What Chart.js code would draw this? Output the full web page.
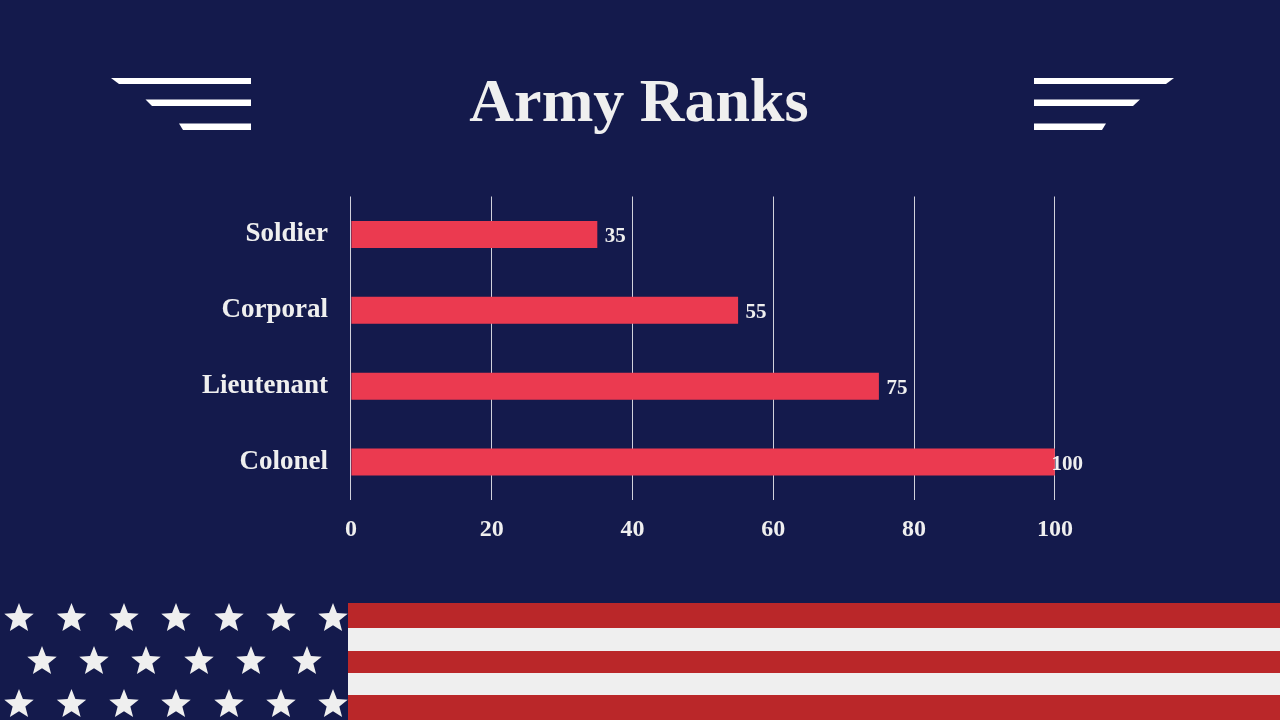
<!DOCTYPE html>
<html>
<head>
<meta charset="utf-8">
<style>
html,body{margin:0;padding:0;width:1280px;height:720px;overflow:hidden;background:#141a4c}
#deco,#c{position:absolute;left:0;top:0}
#title{position:absolute;left:0;top:62px;width:1278px;text-align:center;margin:0;color:#efefef;font:bold 62px "Liberation Serif",serif;line-height:76px}
</style>
<script src="https://cdn.jsdelivr.net/npm/chart.js@4"></script>
</head>
<body>
<svg id="deco" width="1280" height="720" xmlns="http://www.w3.org/2000/svg"></svg>
<h1 id="title">Army Ranks</h1>
<canvas id="c" width="1280" height="720"></canvas>
<script>
const categories = ["Soldier", "Corporal", "Lieutenant", "Colonel"];
const rankValues = [35, 55, 75, 100];
const tickValues = [0, 20, 40, 60, 80, 100];

const NAVY = "#141a4c", WHITE = "#efefef", RED = "#ba2729", BAR = "#eb3a50";
const FONT = '"Liberation Serif", serif';

// decoration
const deco = document.getElementById("deco");
function el(name, attrs){
  const e = document.createElementNS("http://www.w3.org/2000/svg", name);
  for (const k in attrs) e.setAttribute(k, attrs[k]);
  deco.appendChild(e);
}
const stripes = [[603,628,RED],[628,651,WHITE],[651,673,RED],[673,695,WHITE],[695,720,RED]];
stripes.forEach(s => el("rect",{x:348,y:s[0],width:932,height:s[1]-s[0],fill:s[2]}));
function starPoints(cx,cy,R){
  const r = R*0.43, p=[];
  for(let i=0;i<10;i++){
    const a = -Math.PI/2 + i*Math.PI/5, q = i%2?r:R;
    p.push((cx+q*Math.cos(a)).toFixed(2)+","+(cy+q*Math.sin(a)).toFixed(2));
  }
  return p.join(" ");
}
const starRowA = [19,71.5,124,176,229,281,333];
const starRowB = [42,94,146,199,251,307];
[[starRowA,618.5],[starRowB,661.5],[starRowA,704.5]].forEach(row=>{
  row[0].forEach(x=>el("polygon",{points:starPoints(x,row[1],15.5),fill:WHITE}));
});
const wings = [
 [78,84,111,119,1174,1166],
 [99.5,106,145.5,152,1140,1133],
 [123.5,130,179,183,1106,1102]
];
wings.forEach(w=>{
  el("polygon",{points:`${w[2]},${w[0]} 251,${w[0]} 251,${w[1]} ${w[3]},${w[1]}`,fill:"#fff"});
  el("polygon",{points:`1034,${w[0]} ${w[4]},${w[0]} ${w[5]},${w[1]} 1034,${w[1]}`,fill:"#fff"});
});

// value labels at the bar ends
const valueLabels = {
  id:"valueLabels",
  afterDatasetsDraw(chart){
    const ctx = chart.ctx, meta = chart.getDatasetMeta(0);
    ctx.save();
    ctx.fillStyle = WHITE;
    ctx.font = "bold 21px " + FONT;
    ctx.textAlign = "left";
    ctx.textBaseline = "middle";
    meta.data.forEach((bar,i)=>{
      const v = rankValues[i];
      const off = v === 100 ? -3.5 : 7.5;
      ctx.fillText(String(v), bar.x + off, bar.y + 2.5);
    });
    ctx.restore();
  }
};

new Chart(document.getElementById("c"),{
  type:"bar",
  data:{labels:categories,datasets:[{data:rankValues,backgroundColor:BAR,borderWidth:0,barPercentage:0.356,categoryPercentage:1}]},
  plugins:[valueLabels],
  options:{
    indexAxis:"y",
    responsive:false,
    animation:false,
    layout:{padding:{top:196.5,right:225.1,left:0,bottom:0}},
    plugins:{legend:{display:false},tooltip:{enabled:false},title:{display:false}},
    scales:{
      x:{
        min:0,max:100,
        afterBuildTicks(s){ s.ticks = tickValues.map(v=>({value:v})); },
        afterFit(s){ s.height = 220; },
        grid:{color:"rgba(255,255,255,0.8)",lineWidth:1,drawTicks:false},
        border:{display:false},
        ticks:{color:WHITE,padding:15,maxRotation:0,autoSkip:false,font:{family:FONT,size:24,weight:"bold"}}
      },
      y:{
        afterFit(s){ s.width = 350.9; },
        grid:{display:false},
        border:{display:false},
        ticks:{color:WHITE,padding:15,font:{family:FONT,size:27,weight:"bold"},
          callback(v){return categories[v];}}
      }
    }
  }
});
</script>
</body>
</html>
